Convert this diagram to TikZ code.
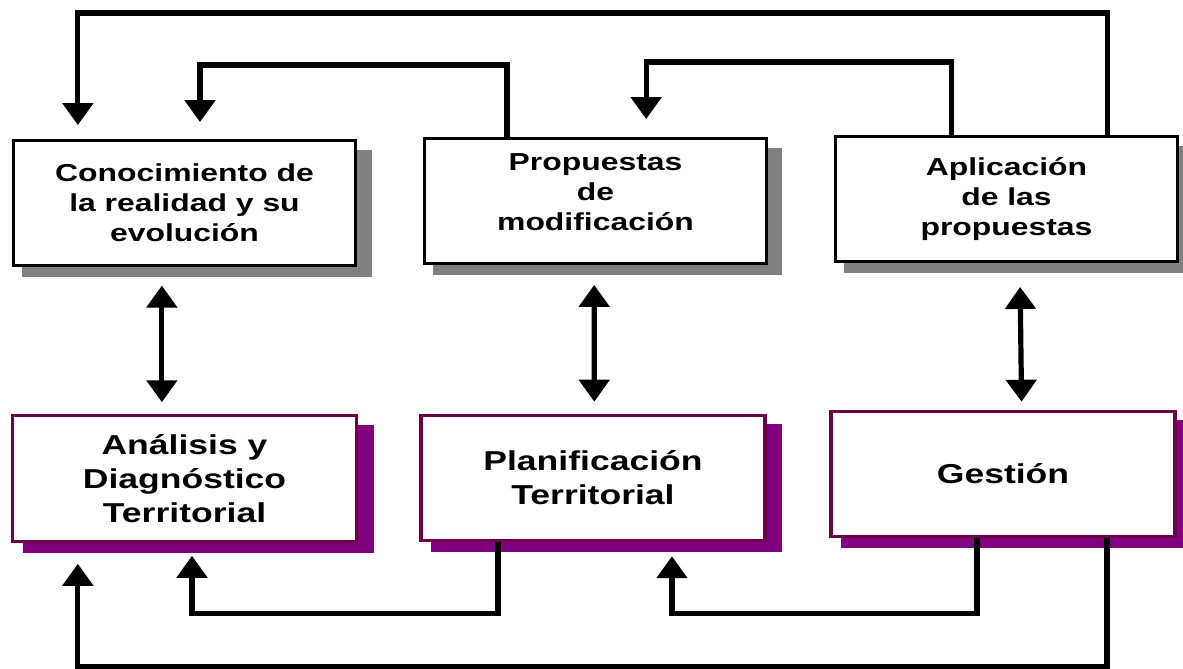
\documentclass[tikz,border=0pt]{standalone}
\usepackage{fontspec}
\setmainfont{Liberation Sans}[FakeStretch=1.3]
\usetikzlibrary{arrows.meta, shadows}
\definecolor{marco}{RGB}{110,0,70}
\definecolor{violeta}{RGB}{128,0,128}
\tikzstyle{topbox} = [rectangle, minimum width=257pt, minimum height=93.5pt, align=center, draw=black, line width=2.4pt, fill=white, font=\fontsize{18.4pt}{22.5pt}\selectfont\bfseries, drop shadow={shadow xshift=9pt, shadow yshift=-8pt, shadow scale=1.02, fill=black!50, opacity=1}]
\tikzstyle{basebox} = [rectangle, minimum width=258pt, minimum height=94pt, align=center, draw=marco, line width=2.4pt, fill=white, font=\fontsize{20.5pt}{25.5pt}\selectfont\bfseries, drop shadow={shadow xshift=10pt, shadow yshift=-7.5pt, shadow scale=1.02, fill=violeta, opacity=1}]
\tikzstyle{arrow} = [line width=3.9pt, -{Triangle[width=22.5pt,length=16.5pt]}]
\tikzstyle{twoway} = [line width=3.9pt, {Triangle[width=22.5pt,length=16.5pt]}-{Triangle[width=22.5pt,length=16.5pt]}]

\begin{document}
\begin{tikzpicture}[node distance=308.25pt]
        \useasboundingbox (-138.4pt,152.25pt) rectangle (748.9pt,-349.5pt);
        \node (conoc) [topbox] {Conocimiento de\\la realidad y su\\evolución};
        \node (prop) [topbox, right of=conoc, yshift=1.5pt, text depth=13.5pt] {Propuestas\\de\\modificación};
        \node (aplic) [topbox, right of=prop, yshift=1.5pt] {Aplicación\\de las\\propuestas};
        \node (analisis) [basebox, below of=conoc, yshift=101.6pt] {Análisis y\\Diagnóstico\\Territorial};
        \node (planif) [basebox, below of=prop, xshift=-1.9pt, yshift=100.5pt] {Planificación\\Territorial};
        \node (gestion) [basebox, below of=aplic, xshift=-2.6pt, yshift=102pt] {Gestión};
        % retornos de arriba
        \draw [arrow, shorten >=10.5pt] ([xshift=76pt]aplic.north) -- ++(0,91.5pt) -| ([xshift=-80pt]conoc.north);
        \draw [arrow, shorten >=13.5pt] ([xshift=-41pt]aplic.north) -- ++(0,54.75pt) -| ([xshift=38pt]prop.north);
        \draw [arrow, shorten >=12.75pt] ([xshift=-66.4pt]prop.north) -- ++(0,54pt) -| ([xshift=11.6pt]conoc.north);
        % dobles
        \draw [twoway, shorten <=14pt, shorten >=9pt] ([xshift=-17pt]conoc.south) -- ([xshift=-17pt]analisis.north);
        \draw [twoway, shorten <=15pt, shorten >=9pt] ([xshift=-1pt]prop.south) -- ([xshift=1pt]planif.north);
        \draw [twoway, shorten <=18pt, shorten >=6pt] ([xshift=10pt]aplic.south) -- ([xshift=14pt]gestion.north);
        % retornos de abajo
        \draw [arrow, shorten >=9.75pt] ([xshift=-71.25pt]planif.south) -- ++(0,-53.25pt) -| ([xshift=5.6pt]analisis.south);
        \draw [arrow, shorten >=10.5pt] ([xshift=-19.5pt]gestion.south) -- ++(0,-56.25pt) -| ([xshift=59.25pt]planif.south);
        \draw [arrow, shorten >=15.75pt] ([xshift=78pt]gestion.south) -- ++(0,-96pt) -| ([xshift=-80pt]analisis.south);
\end{tikzpicture}
\end{document}
